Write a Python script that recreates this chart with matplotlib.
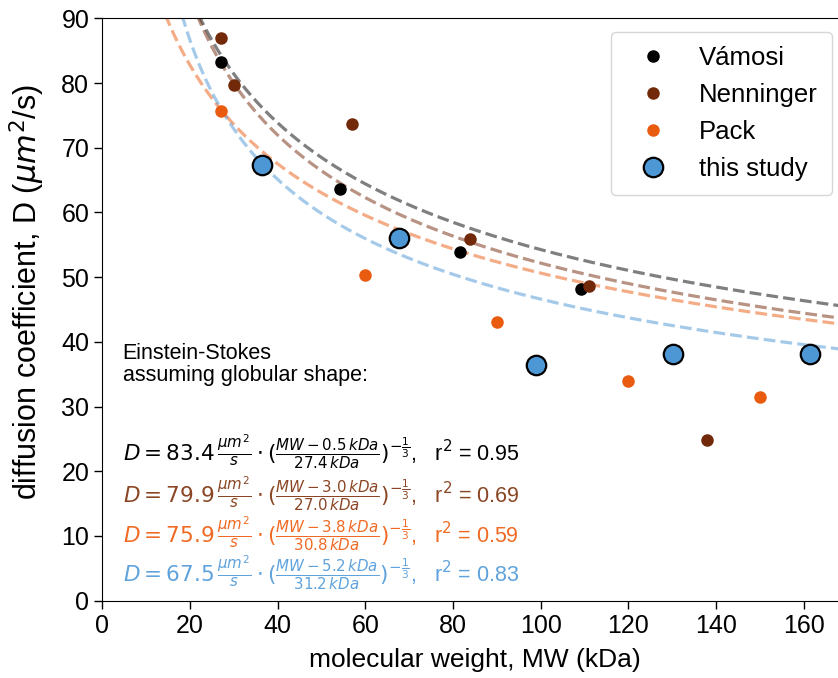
import numpy as np
import matplotlib
matplotlib.use("Agg")
import matplotlib.pyplot as plt

plt.rcParams["font.family"] = ["Liberation Sans", "DejaVu Sans"]
plt.rcParams["mathtext.fontset"] = "dejavusans"

# data
vamosi_mw = [27.0, 54.2, 81.6, 109.2]
vamosi_d = [83.2, 63.6, 53.9, 48.1]
nenninger_mw = [27.0, 30.0, 56.9, 83.9, 111.1, 137.9]
nenninger_d = [86.9, 79.7, 73.6, 55.9, 48.6, 24.8]
pack_mw = [27.0, 60.0, 90.0, 120.0, 150.0]
pack_d = [75.7, 50.3, 43.1, 34.0, 31.5]
study_mw = [36.5, 67.6, 99.0, 130.1, 161.4]
study_d = [67.3, 56.1, 36.5, 38.1, 38.1]

# Einstein-Stokes fit parameters: D0, MW offset, MW scale, r^2
# (the drawn Pack curve sits at MW + 3.8, the label prints "- 3.8")
fit_d0 = [83.4, 79.9, 75.9, 67.5]
fit_off = [0.5, 3.0, -3.8, 5.2]
fit_scale = [27.4, 27.0, 30.8, 31.2]
fit_r2 = [0.95, 0.69, 0.59, 0.83]

c_vam = "black"
c_nen = "#72290a"
c_pack = "#e95b0f"
c_study = "#4d97d5"
colors = [c_vam, c_nen, c_pack, c_study]
text_colors = ["black", "#8a4624", "#f06a24", "#5fa2dc"]

fig = plt.figure(figsize=(8.38, 6.78), dpi=100)
ax = fig.add_axes([0.1223, 0.114, 0.889, 0.859])

for d0, off, sc, col in zip(fit_d0, fit_off, fit_scale, colors):
    mw = np.linspace(max(off, 0) + 0.3, 175, 600)
    ax.plot(mw, d0 * ((mw - off) / sc) ** (-1 / 3), "--", color=col,
            alpha=0.5, lw=2.3, zorder=1)

ax.plot(vamosi_mw, vamosi_d, "o", color=c_vam, ms=8, label="Vámosi", zorder=3)
ax.plot(nenninger_mw, nenninger_d, "o", color=c_nen, ms=8, label="Nenninger", zorder=3)
ax.plot(pack_mw, pack_d, "o", color=c_pack, ms=8, label="Pack", zorder=3)
ax.plot(study_mw, study_d, "o", color=c_study, mec="black", mew=1.6, ms=14,
        label="this study", zorder=4)

ax.set_xlim(0, 170)
ax.set_ylim(0, 90)
ax.set_xticks(range(0, 170, 20))
ax.set_yticks(range(0, 91, 10))
ax.tick_params(labelsize=18, length=6, width=1)
ax.set_xlabel("molecular weight, MW (kDa)", fontsize=19, labelpad=7)
ax.set_ylabel(r"diffusion coefficient, D ($\mu m^2$/s)", fontsize=22)
ax.yaxis.set_label_coords(-0.074, 0.53)
ax.spines["right"].set_visible(False)

ax.text(4.6, 39.8, "Einstein-Stokes\nassuming globular shape:", fontsize=15.5,
        va="top", ha="left", linespacing=1.05)
ys = [23.0, 16.6, 10.4, 4.3]
for d0, off, sc, r2, tc, y in zip(fit_d0, fit_off, fit_scale, fit_r2, text_colors, ys):
    s = (r"$D = %.1f\,\frac{\mu m^2}{s}\cdot(\frac{MW - %.1f\,kDa}{%.1f\,kDa})^{-\frac{1}{3}}$,"
         % (d0, abs(off), sc))
    s += "   r$^2$ = %.2f" % r2
    ax.text(4.6, y, s, fontsize=15.5, color=tc, va="center", ha="left")

leg = ax.legend(loc="upper right", bbox_to_anchor=(0.993, 0.953),
                bbox_transform=fig.transFigure, borderaxespad=0, fontsize=18.5,
                handletextpad=0.7, labelspacing=0.5, borderpad=0.55,
                handlelength=2.2)

fig.savefig("out.png", dpi=100)
